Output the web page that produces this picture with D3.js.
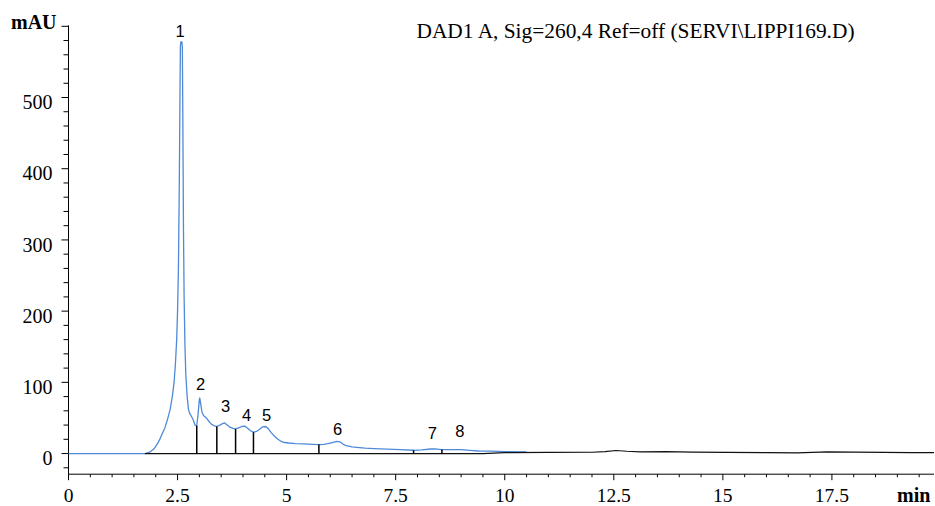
<!DOCTYPE html>
<html>
<head>
<meta charset="utf-8">
<script src="https://cdn.jsdelivr.net/npm/d3@7"></script>
<style>
  html, body { margin: 0; padding: 0; background: #fff; }
  svg { display: block; }
</style>
</head>
<body>
<svg id="chart" width="935" height="506"></svg>
<script>
// DAD1 A signal (mAU) against retention time (min)
const signalTime = [0, 1.0, 1.75, 1.85, 1.95, 2.0, 2.05, 2.10, 2.15, 2.21, 2.27, 2.33, 2.38, 2.42, 2.45, 2.48,
  2.50, 2.52, 2.54, 2.555, 2.565, 2.575, 2.60, 2.61, 2.62, 2.635, 2.65, 2.67, 2.69, 2.72, 2.75, 2.78,
  2.82, 2.86, 2.90, 2.94, 2.97, 3.00, 3.01, 3.03, 3.06, 3.10, 3.16, 3.22, 3.28, 3.34, 3.40, 3.47,
  3.53, 3.58, 3.64, 3.70, 3.77, 3.83, 3.90, 3.97, 4.04, 4.10, 4.17, 4.24, 4.31, 4.38, 4.45, 4.52,
  4.58, 4.65, 4.73, 4.80, 4.88, 4.95, 5.05, 5.20, 5.40, 5.60, 5.74, 5.85, 5.95, 6.05, 6.15, 6.22,
  6.30, 6.37, 6.50, 6.60, 6.80, 7.00, 7.30, 7.60, 7.91, 8.10, 8.30, 8.40, 8.50, 8.56, 8.70, 9.00,
  9.20, 9.40, 9.70, 10.0, 10.5];
const signalValue = [0, 0, 0, 1.5, 6, 10, 15, 21, 28, 36, 48, 62, 80, 100, 125, 160,
  200, 260, 380, 500, 572, 578, 578, 570, 480, 320, 220, 150, 110, 80, 62, 56,
  52, 47, 40, 39, 55, 76, 78, 70, 58, 53, 50, 45, 41, 39, 38, 40,
  42, 43, 40, 37, 35.5, 34.5, 36, 38, 38.5, 36, 32, 30, 31, 34, 37.5, 38,
  35, 29, 24, 20, 17, 15.5, 14.8, 14, 13.5, 13, 12.6, 13, 14, 15.5, 17, 16.5,
  13, 11, 9.5, 8.8, 7.6, 7, 6.2, 5.4, 4.6, 5.3, 6.4, 6.6, 6, 5.6, 5.6, 5.4,
  4.5, 3.6, 3.3, 2.8, 2.4];

// integration baseline / late trace (black)
const baseTime = [1.75, 9.5, 10.0, 11.0, 12.0, 12.3, 12.55, 12.8, 13.1, 13.7, 14.3, 15.1, 16.0, 16.7, 17.4, 18.0, 18.7, 19.3, 19.84];
const baseValue = [0, 0, 1.2, 1.7, 1.8, 2.6, 4.3, 3.2, 2.4, 2.8, 2.0, 1.6, 1.2, 1.0, 2.4, 2.0, 1.6, 1.4, 1.4];

// integration events: peak boundaries (drop lines)
const dropTimes = [2.94, 3.40, 3.83, 4.24, 5.74, 7.91, 8.56];

// peak numbering: label time and label level (mAU)
const peakNames = ["1", "2", "3", "4", "5", "6", "7", "8"];
const peakTimes = [2.56, 3.03, 3.60, 4.08, 4.54, 6.17, 8.34, 8.97];
const peakLabelLevels = [585, 89, 58.7, 45.6, 45.6, 26, 20.4, 23.6];

// axis ticks
const xMajor = [0, 2.5, 5, 7.5, 10, 12.5, 15, 17.5];
const yMajor = [0, 100, 200, 300, 400, 500];

const title = "DAD1 A, Sig=260,4 Ref=off (SERVI\\LIPPI169.D)";

const svg = d3.select("#chart");
const serif = "'Liberation Serif', 'Times New Roman', serif";
const sans = "'Liberation Sans', Arial, sans-serif";

const x = d3.scaleLinear().domain([0, 19.84]).range([68.5, 934]);
const y = d3.scaleLinear().domain([-29, 600]).range([474.2, 26.3]);

const signal = signalTime.map((t, i) => [t, signalValue[i]]);
const base = baseTime.map((t, i) => [t, baseValue[i]]);
const line = d3.line().x(d => x(d[0])).y(d => y(d[1]));

// signal value at a given time (linear between stored points)
const bis = d3.bisector(d => d[0]).left;
function signalAt(t) {
  const i = Math.max(1, Math.min(signal.length - 1, bis(signal, t)));
  const a = signal[i - 1], b = signal[i];
  return a[1] + (b[1] - a[1]) * (t - a[0]) / (b[0] - a[0]);
}

// axes
const yTicksAll = d3.range(-20, 601, 20);
const yAxis = svg.append("g").attr("transform", `translate(${x(0)},0)`);
yAxis.append("line").attr("x1", 0).attr("x2", 0)
  .attr("y1", y(600) - 1).attr("y2", y(-29)).attr("stroke", "#000");
yAxis.selectAll("line.tick").data(yTicksAll).join("line")
  .attr("class", "tick")
  .attr("x1", d => d % 100 === 0 ? -7 : -5).attr("x2", 0)
  .attr("y1", d => y(d)).attr("y2", d => y(d))
  .attr("stroke", "#000");
yAxis.selectAll("text").data(yMajor).join("text")
  .attr("x", -16).attr("y", d => y(d)).attr("dy", "0.58em")
  .attr("text-anchor", "end")
  .style("font-family", serif).style("font-size", "20px")
  .text(d => d);

const xTicksAll = d3.range(0, 19.84, 0.5);
const xAxis = svg.append("g").attr("transform", `translate(0,${y(-29)})`);
xAxis.append("line").attr("x1", x(0)).attr("x2", x(19.84))
  .attr("y1", 0).attr("y2", 0).attr("stroke", "#000");
xAxis.selectAll("line.tick").data(xTicksAll).join("line")
  .attr("class", "tick")
  .attr("x1", d => x(d)).attr("x2", d => x(d))
  .attr("y1", 0).attr("y2", d => (d * 2) % 5 === 0 ? 6 : 3)
  .attr("stroke", "#000");
xAxis.selectAll("text").data(xMajor).join("text")
  .attr("x", d => x(d)).attr("y", 27.5)
  .attr("text-anchor", "middle")
  .style("font-family", serif).style("font-size", "19.5px")
  .text(d => d);

// axis units
svg.append("text").attr("x", 11).attr("y", 29)
  .style("font-family", serif).style("font-size", "20px").style("font-weight", "bold")
  .text("mAU");
svg.append("text").attr("x", 897).attr("y", 501.5)
  .style("font-family", serif).style("font-size", "20px").style("font-weight", "bold")
  .text("min");

// signal title
svg.append("text").attr("x", 416.5).attr("y", 38)
  .attr("textLength", 438).attr("lengthAdjust", "spacingAndGlyphs")
  .style("font-family", serif).style("font-size", "20px")
  .text(title);

// signal trace
svg.append("path").datum(signal)
  .attr("d", line).attr("fill", "none")
  .attr("stroke", "#4f8ad8").attr("stroke-width", 1.3)
  .attr("stroke-linejoin", "round");

// baseline trace
svg.append("path").datum(base)
  .attr("d", line).attr("fill", "none")
  .attr("stroke", "#111").attr("stroke-width", 1.2);

// drop lines
svg.selectAll("line.drop").data(dropTimes).join("line")
  .attr("class", "drop")
  .attr("x1", d => x(d)).attr("x2", d => x(d))
  .attr("y1", y(0)).attr("y2", d => y(signalAt(d)))
  .attr("stroke", "#000").attr("stroke-width", 1.5);

// peak numbers
svg.selectAll("text.peak").data(peakNames).join("text")
  .attr("class", "peak")
  .attr("x", (d, i) => x(peakTimes[i]))
  .attr("y", (d, i) => y(peakLabelLevels[i]))
  .attr("text-anchor", "middle")
  .style("font-family", sans).style("font-size", "16.5px")
  .text(d => d);
</script>
</body>
</html>
